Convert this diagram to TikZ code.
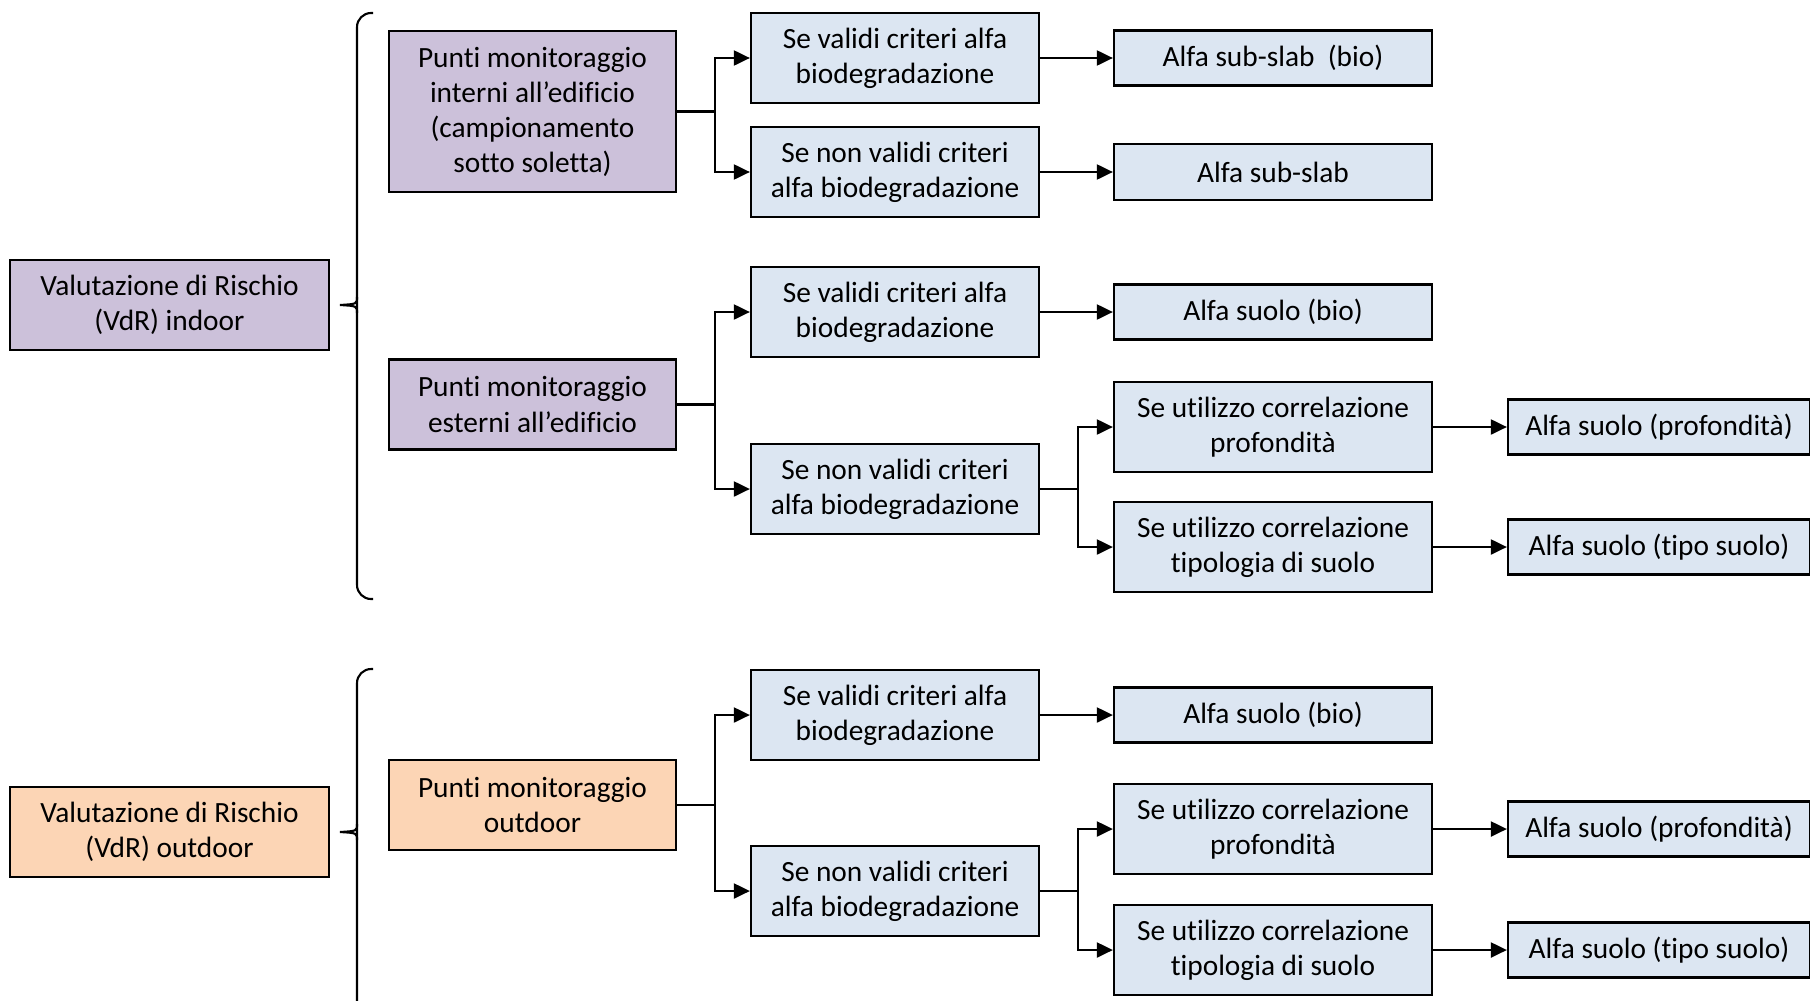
\documentclass[tikz,border=0pt]{standalone}
\usepackage{fontspec}
\setmainfont{Carlito}[Ligatures=NoCommon]
\usetikzlibrary{shapes,backgrounds,calc,arrows.meta}
\tikzset{>={Triangle[length=1.6mm,width=1.5mm]}}
\definecolor{lila}{HTML}{CCC1DA}
\definecolor{azzurro}{HTML}{DCE6F2}
\definecolor{pesca}{HTML}{FCD5B5}

\begin{document}
\begin{tikzpicture}[x=0.01cm, y=-0.01cm, font=\fontsize{8.35}{9.96}\selectfont, line width=0.6pt]

\useasboundingbox (0,0) rectangle (1810,1000);

%% styles
\tikzstyle{rischio}=[draw, align=center, inner sep=0pt, minimum width=3.19cm, minimum height=0.9cm]

\tikzstyle{punti}=[draw, align=center, inner sep=0pt, minimum width=2.87cm, minimum height=0.9cm]

\tikzstyle{criteri}=[draw, align=center, inner sep=0pt, minimum width=2.88cm, minimum height=0.9cm, fill=azzurro]

\tikzstyle{alfa}=[draw, align=center, inner sep=0pt, minimum width=3.18cm, minimum height=0.55cm, fill=azzurro]

%% valutazione
\node(V1)[style = rischio, fill=lila] at (169.5, 305)
{
Valutazione di Rischio\\(VdR) indoor
};

\node(V2)[style = rischio, fill=pesca] at (169.5, 832)
{
Valutazione di Rischio\\(VdR) outdoor
};

%% punti monitoraggio
\node(P1)[style = punti, fill=lila, minimum height=1.61cm] at (532.5, 111.5)
{
Punti monitoraggio\\interni all’edificio\\(campionamento\\sotto soletta)
};

\node(P2)[style = punti, fill=lila] at (532.5, 404.5)
{
Punti monitoraggio\\esterni all’edificio
};

\node(P3)[style = punti, fill=pesca] at (532.5, 805)
{
Punti monitoraggio\\outdoor
};

%% criteri
\node(C1)[style = criteri] at (895, 58) {Se validi criteri alfa\\biodegradazione};
\node(C2)[style = criteri] at (895, 172) {Se non validi criteri\\alfa biodegradazione};
\node(C3)[style = criteri] at (895, 312) {Se validi criteri alfa\\biodegradazione};
\node(C4)[style = criteri] at (895, 489) {Se non validi criteri\\alfa biodegradazione};
\node(C5)[style = criteri] at (895, 715) {Se validi criteri alfa\\biodegradazione};
\node(C6)[style = criteri] at (895, 891) {Se non validi criteri\\alfa biodegradazione};

%% correlazioni
\node(U1)[style = criteri, minimum width=3.18cm] at (1273, 427) {Se utilizzo correlazione\\profondità};
\node(U2)[style = criteri, minimum width=3.18cm] at (1273, 547) {Se utilizzo correlazione\\tipologia di suolo};
\node(U3)[style = criteri, minimum width=3.18cm] at (1273, 829) {Se utilizzo correlazione\\profondità};
\node(U4)[style = criteri, minimum width=3.18cm] at (1273, 950) {Se utilizzo correlazione\\tipologia di suolo};

%% alfa
\node(A1)[style = alfa] at (1273, 58) {Alfa sub-slab~ (bio)};
\node(A2)[style = alfa, minimum height=0.56cm] at (1273, 172) {Alfa sub-slab};
\node(A3)[style = alfa] at (1273, 312) {Alfa suolo (bio)};
\node(A4)[style = alfa] at (1273, 715) {Alfa suolo (bio)};
\node(A5)[style = alfa, minimum width=3.02cm] at (1659, 427) {Alfa suolo (profondità)};
\node(A6)[style = alfa, minimum width=3.02cm] at (1659, 547) {Alfa suolo (tipo suolo)};
\node(A7)[style = alfa, minimum width=3.02cm] at (1659, 829) {Alfa suolo (profondità)};
\node(A8)[style = alfa, minimum width=3.02cm] at (1659, 950) {Alfa suolo (tipo suolo)};

%% graffe
\draw[rounded corners=4] (373, 13) -- (357, 13) -- (357, 599) -- (373, 599);
\draw (357, 297) .. controls (357, 304) .. (340, 305) .. controls (357, 306) .. (357, 313);

\draw[rounded corners=4] (373, 669) -- (357, 669) -- (357, 1010);
\draw (357, 824) .. controls (357, 831) .. (340, 832) .. controls (357, 833) .. (357, 840);

%% arrows

\path [draw, ->] (P1.east) -- ++(37.5, 0) |- (C1.west);
\path [draw, ->] (P1.east) -- ++(37.5, 0) |- (C2.west);
\path [draw, ->] (P2.east) -- ++(37.5, 0) |- (C3.west);
\path [draw, ->] (P2.east) -- ++(37.5, 0) |- (C4.west);
\path [draw, ->] (P3.east) -- ++(37.5, 0) |- (C5.west);
\path [draw, ->] (P3.east) -- ++(37.5, 0) |- (C6.west);

\path [draw, ->] (C4.east) -- ++(37.5, 0) |- (U1.west);
\path [draw, ->] (C4.east) -- ++(37.5, 0) |- (U2.west);
\path [draw, ->] (C6.east) -- ++(37.5, 0) |- (U3.west);
\path [draw, ->] (C6.east) -- ++(37.5, 0) |- (U4.west);

\path [draw, ->] (C1) -- (A1);
\path [draw, ->] (C2) -- (A2);
\path [draw, ->] (C3) -- (A3);
\path [draw, ->] (C5) -- (A4);
\path [draw, ->] (U1) -- (A5);
\path [draw, ->] (U2) -- (A6);
\path [draw, ->] (U3) -- (A7);
\path [draw, ->] (U4) -- (A8);

\end{tikzpicture}
\end{document}
